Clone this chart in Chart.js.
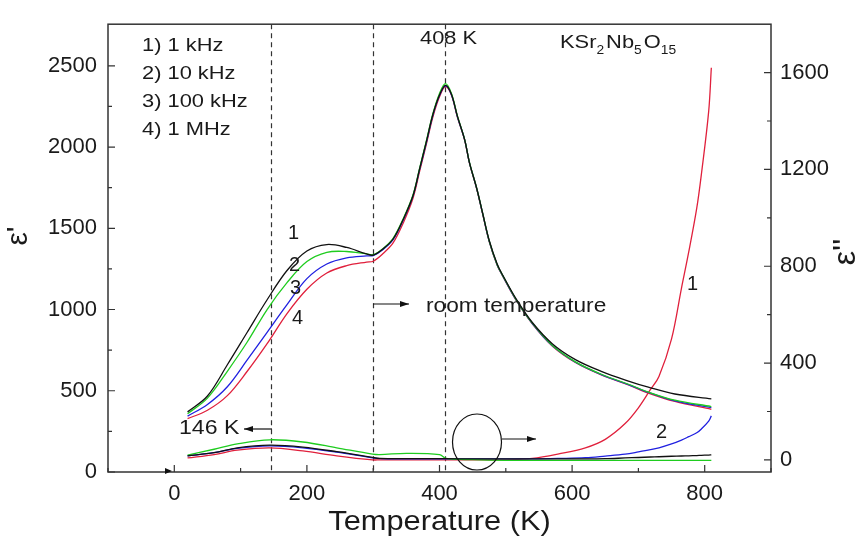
<!DOCTYPE html>
<html>
<head>
<meta charset="utf-8">
<script src="https://cdn.jsdelivr.net/npm/chart.js@4.4.1/dist/chart.umd.min.js"></script>
<style>
  html, body { margin: 0; padding: 0; background: #fff; }
  #wrap { width: 862px; height: 541px; }
</style>
</head>
<body>
<div id="wrap"><canvas id="chart"></canvas></div>
<script>
// temperature grid (K) for the real part eps'
const temps = [20, 50, 80, 110, 140, 170, 200, 230, 260, 290, 300, 315, 330, 345, 360, 370, 380, 390, 400, 409,
  418, 427, 438, 445, 456, 465, 475, 487, 495, 516, 540, 570, 605, 645, 685, 715, 755, 810];

const eps1k   = [370, 468, 660, 860, 1060, 1240, 1360, 1400, 1382, 1342, 1335, 1374, 1434, 1552, 1700, 1866, 2030, 2200, 2320, 2380,
  2325, 2190, 2044, 1907, 1748, 1594, 1425, 1280, 1214, 1062, 920, 790, 692, 618, 560, 522, 480, 450];
const eps10k  = [358, 455, 620, 800, 1000, 1165, 1295, 1352, 1357, 1342, 1338, 1376, 1438, 1556, 1705, 1870, 2035, 2205, 2330, 2390,
  2330, 2192, 2046, 1908, 1748, 1594, 1422, 1276, 1212, 1058, 916, 780, 678, 600, 540, 492, 442, 403];
const eps100k = [344, 416, 525, 690, 860, 1030, 1190, 1280, 1318, 1330, 1332, 1370, 1430, 1548, 1698, 1862, 2025, 2195, 2318, 2376,
  2322, 2186, 2044, 1906, 1746, 1592, 1420, 1274, 1210, 1056, 914, 778, 676, 598, 538, 490, 438, 396];
const eps1M   = [328, 380, 470, 620, 790, 975, 1125, 1225, 1270, 1292, 1297, 1345, 1410, 1530, 1685, 1850, 2015, 2185, 2310, 2372,
  2320, 2184, 2042, 1904, 1744, 1590, 1418, 1272, 1208, 1054, 912, 776, 674, 596, 536, 486, 434, 386];

// temperature grid (K) for the imaginary part eps''
const lossTemps = [20, 60, 95, 144, 194, 245, 299, 310, 350, 400, 410, 450, 500, 540, 580, 620, 650, 680, 700, 718,
  731, 750, 765, 776, 788, 795, 806, 810];

const loss1k   = [17, 30, 50, 61, 53, 34, 10, 6, 5, 5, 5, 4, 4, 4, 4, 4, 5, 8, 10, 12, 13, 15, 16, 17, 18, 19, 20, 21];
const loss10k  = [20, 44, 66, 83, 74, 50, 24, 22, 27, 22, 6, 1, -2, -2, -2, -2, -2, -2, -2, -2, -2, -2, -2, -2, -2, -2, -2, -2];
const loss100k = [17, 30, 48, 58, 50, 32, 8, 5, 4, 4, 4, 4, 4, 4, 6, 9, 16, 24, 33, 42, 50, 66, 82, 96, 112, 128, 160, 182];
const loss1M   = [8, 22, 40, 50, 37, 17, 0, 0, 0, 0, 0, 0, 0, 6, 25, 50, 85, 150, 215, 290, 345, 500, 710, 860, 1040, 1180, 1440, 1620];

const xTicks = [0, 200, 400, 600, 800];
const xMinor = [-100, 100, 300, 500, 700, 900];
const leftTicks = [0, 500, 1000, 1500, 2000, 2500];
const leftMinor = [250, 750, 1250, 1750, 2250];
const rightTicks = [0, 400, 800, 1200, 1600];
const rightMinor = [200, 600, 1000, 1400];
const markTemps = [146, 300, 408];
const legendLines = ['1) 1 kHz', '2) 10 kHz', '3) 100 kHz', '4) 1 MHz'];

const colors = ['#111111', '#1fcc1f', '#2020e0', '#e0203c'];
const FONT = '"Liberation Sans", Arial, sans-serif';

function toPoints(xs, ys) {
  return xs.map((t, i) => ({x: t, y: ys[i]}));
}

function line(label, xs, ys, color, axis) {
  return {
    label: label,
    data: toPoints(xs, ys),
    borderColor: color,
    backgroundColor: color,
    borderWidth: 1.3,
    pointRadius: 0,
    fill: false,
    tension: 0.35,
    yAxisID: axis
  };
}

function arrow(ctx, x1, y1, x2, y2) {
  const ang = Math.atan2(y2 - y1, x2 - x1);
  ctx.beginPath();
  ctx.moveTo(x1, y1);
  ctx.lineTo(x2, y2);
  ctx.stroke();
  ctx.beginPath();
  ctx.moveTo(x2, y2);
  ctx.lineTo(x2 - 9 * Math.cos(ang) + 3 * Math.sin(ang), y2 - 9 * Math.sin(ang) - 3 * Math.cos(ang));
  ctx.lineTo(x2 - 9 * Math.cos(ang) - 3 * Math.sin(ang), y2 - 9 * Math.sin(ang) + 3 * Math.cos(ang));
  ctx.closePath();
  ctx.fill();
}

// text stretched a little wider, like the scanned figure
function wideText(ctx, s, x, y, sx) {
  ctx.save();
  ctx.translate(x, y);
  ctx.scale(sx, 1);
  ctx.fillText(s, 0, 0);
  ctx.restore();
}

const decor = {
  id: 'decor',
  beforeDatasetsDraw(chart) {
    const {ctx, chartArea: a, scales: {x}} = chart;
    ctx.save();
    ctx.strokeStyle = '#333';
    ctx.lineWidth = 1.2;
    ctx.setLineDash([5, 4]);
    markTemps.forEach(t => {
      const px = Math.round(x.getPixelForValue(t)) + 0.5;
      ctx.beginPath();
      ctx.moveTo(px, a.top);
      ctx.lineTo(px, a.bottom);
      ctx.stroke();
    });
    ctx.restore();
  },
  afterDatasetsDraw(chart) {
    const {ctx, chartArea: a, scales: {x, y, y1}} = chart;
    ctx.save();
    // frame
    ctx.strokeStyle = '#333';
    ctx.lineWidth = 1.5;
    ctx.strokeRect(a.left, a.top, a.right - a.left, a.bottom - a.top);

    // inward ticks
    ctx.lineWidth = 1.2;
    ctx.beginPath();
    xTicks.forEach(v => { const p = x.getPixelForValue(v); ctx.moveTo(p, a.bottom); ctx.lineTo(p, a.bottom - 7); });
    xMinor.forEach(v => { const p = x.getPixelForValue(v); ctx.moveTo(p, a.bottom); ctx.lineTo(p, a.bottom - 4); });
    leftTicks.forEach(v => { const p = y.getPixelForValue(v); ctx.moveTo(a.left, p); ctx.lineTo(a.left + 7, p); });
    leftMinor.forEach(v => { const p = y.getPixelForValue(v); ctx.moveTo(a.left, p); ctx.lineTo(a.left + 4, p); });
    rightTicks.forEach(v => { const p = y1.getPixelForValue(v); ctx.moveTo(a.right, p); ctx.lineTo(a.right - 7, p); });
    rightMinor.forEach(v => { const p = y1.getPixelForValue(v); ctx.moveTo(a.right, p); ctx.lineTo(a.right - 4, p); });
    ctx.stroke();

    // texts
    ctx.fillStyle = '#1a1a1a';
    ctx.textBaseline = 'middle';
    ctx.textAlign = 'left';
    ctx.font = '19px ' + FONT;
    legendLines.forEach((s, i) => wideText(ctx, s, 142, 46 + i * 28, 1.15));
    wideText(ctx, '408 K', 420, 39, 1.15);

    // curve numbers
    ctx.font = '20px ' + FONT;
    ctx.fillText('1', 288, 233);
    ctx.fillText('2', 289, 265);
    ctx.fillText('3', 290, 288);
    ctx.fillText('4', 292, 318);
    ctx.fillText('1', 687, 284);
    ctx.fillText('2', 656, 432);

    ctx.font = '21px ' + FONT;
    wideText(ctx, 'room temperature', 426, 306, 1.08);
    wideText(ctx, '146 K', 179, 428, 1.1);

    // formula with subscripts
    let cx = 560;
    const parts = [['KSr', false], ['2', true], ['Nb', false], ['5', true], ['O', false], ['15', true]];
    parts.forEach(([s, sub]) => {
      ctx.font = (sub ? '12px ' : '19px ') + FONT;
      wideText(ctx, s, cx, sub ? 51 : 43, 1.15);
      cx += ctx.measureText(s).width * 1.15 + (sub ? 2 : 0);
    });

    // arrows and circle
    ctx.strokeStyle = '#111';
    ctx.fillStyle = '#111';
    ctx.lineWidth = 1.2;
    arrow(ctx, 373, 304, 409, 304);
    arrow(ctx, 272, 429, 244, 429);
    arrow(ctx, 502, 439, 536, 439);
    ctx.beginPath();
    ctx.ellipse(477, 442, 24.5, 28, 0, 0, Math.PI * 2);
    ctx.stroke();
    ctx.beginPath();
    ctx.moveTo(172, 471);
    ctx.lineTo(165, 468);
    ctx.lineTo(165, 474);
    ctx.closePath();
    ctx.fill();

    // axis titles
    ctx.fillStyle = '#1a1a1a';
    ctx.textAlign = 'center';
    ctx.font = '28px ' + FONT;
    ctx.save();
    ctx.translate((a.left + a.right) / 2, 522);
    ctx.scale(1.1, 1);
    ctx.fillText('Temperature (K)', 0, 0);
    ctx.restore();
    ctx.save();
    ctx.translate(19, 236);
    ctx.rotate(-Math.PI / 2);
    ctx.font = '30px ' + FONT;
    ctx.fillText("\u03b5'", 0, 0);
    ctx.restore();
    ctx.save();
    ctx.translate(846, 252);
    ctx.rotate(-Math.PI / 2);
    ctx.font = '32px ' + FONT;
    ctx.fillText("\u03b5''", 0, 0);
    ctx.restore();
    ctx.restore();
  }
};

const tickFont = {family: FONT, size: 22};
const plain = v => String(v);

new Chart(document.getElementById('chart'), {
  type: 'line',
  data: {
    datasets: [
      line('1 kHz', temps, eps1k, colors[0], 'y'),
      line('10 kHz', temps, eps10k, colors[1], 'y'),
      line('100 kHz', temps, eps100k, colors[2], 'y'),
      line('1 MHz', temps, eps1M, colors[3], 'y'),
      line("1 kHz ''", lossTemps, loss1k, colors[0], 'y1'),
      line("10 kHz ''", lossTemps, loss10k, colors[1], 'y1'),
      line("100 kHz ''", lossTemps, loss100k, colors[2], 'y1'),
      line("1 MHz ''", lossTemps, loss1M, colors[3], 'y1')
    ]
  },
  options: {
    responsive: true,
    maintainAspectRatio: false,
    animation: false,
    devicePixelRatio: 1,
    layout: {padding: {top: 6, left: 0, right: 0, bottom: 0}},
    plugins: {
      legend: {display: false},
      tooltip: {enabled: false}
    },
    scales: {
      x: {
        type: 'linear',
        min: -100,
        max: 900,
        afterBuildTicks: s => { s.ticks = xTicks.map(v => ({value: v})); },
        afterFit: s => { s.height = 69; },
        grid: {display: false, drawTicks: false},
        border: {display: false},
        ticks: {font: tickFont, color: '#1a1a1a', padding: 9, maxRotation: 0, autoSkip: false, callback: plain}
      },
      y: {
        position: 'left',
        min: 0,
        max: 2756,
        afterBuildTicks: s => { s.ticks = leftTicks.map(v => ({value: v})); },
        afterFit: s => { s.width = 108; },
        grid: {display: false, drawTicks: false},
        border: {display: false},
        ticks: {font: tickFont, color: '#1a1a1a', padding: 11, callback: plain}
      },
      y1: {
        position: 'right',
        min: -50,
        max: 1800,
        afterBuildTicks: s => { s.ticks = rightTicks.map(v => ({value: v})); },
        afterFit: s => { s.width = 91; },
        grid: {display: false, drawTicks: false},
        border: {display: false},
        ticks: {font: tickFont, color: '#1a1a1a', padding: 9, callback: plain}
      }
    }
  },
  plugins: [decor]
});
</script>
</body>
</html>
